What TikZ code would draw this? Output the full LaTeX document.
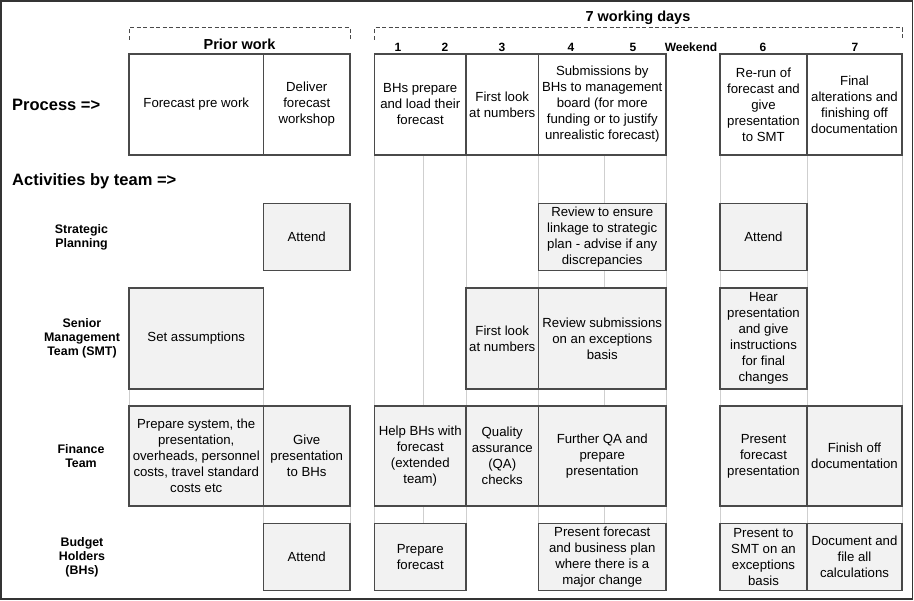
\documentclass[tikz,border=0pt]{standalone}
\usepackage{fontspec}
\setmainfont{Liberation Sans}
\definecolor{boxline}{HTML}{4A4A4A}
\definecolor{actfill}{HTML}{F2F2F2}
\definecolor{gridgray}{HTML}{CFCFCF}
\begin{document}
\begin{tikzpicture}[x=1pt, y=1pt,
  proc/.style = {draw=boxline, line width=1.4pt, fill=white, anchor=north west, outer sep=0pt, inner sep=1pt, align=center, font=\fontsize{13.2}{16}\selectfont},
  act/.style = {proc, fill=actfill},
  teamlabel/.style = {align=center, font=\bfseries\fontsize{12.4}{14}\selectfont},
  daynum/.style = {font=\bfseries\fontsize{12}{14}\selectfont},
  colhead/.style = {font=\bfseries\fontsize{14.5}{17}\selectfont},
  bigtitle/.style = {anchor=west, inner sep=0pt, font=\bfseries\fontsize{16.5}{19}\selectfont},
  bracket/.style = {draw=boxline, line width=1pt, dash pattern=on 4pt off 2.5pt},
  gridline/.style = {draw=gridgray, line width=1pt},
  wA/.style = {minimum width=134.5pt}, wB/.style = {minimum width=86.5pt},
  wC/.style = {minimum width=91.5pt}, wD/.style = {minimum width=72.5pt},
  wE/.style = {minimum width=127.5pt}, wF/.style = {minimum width=87pt},
  wG/.style = {minimum width=95pt},
  hbig/.style = {minimum height=101pt}, hfin/.style = {minimum height=100pt},
  hsmall/.style = {minimum height=67pt}]
\useasboundingbox (0,0) rectangle (914,-601);
\draw[line width=1.5pt, draw=boxline!70!black] (1,-1) rectangle (912.5,-599);
\foreach \x in {374.5,423.5,466,538.5,604,666,720,807,902}
  \draw[gridline] (\x,-155) -- (\x,-590.5);
% headings
\node[colhead] (week) at (638,-17.5) {7 working days};
\node[colhead] (prior) at (239.5,-44.5) {Prior work};
\node[daynum] (d1) at (398,-47.5) {1};
\node[daynum] (d2) at (445,-47.5) {2};
\node[daynum] (d3) at (502,-47.5) {3};
\node[daynum] (d4) at (571,-47.5) {4};
\node[daynum] (d5) at (633,-47.5) {5};
\node[daynum] (wkend) at (691,-47.5) {Weekend};
\node[daynum] (d6) at (763,-47.5) {6};
\node[daynum] (d7) at (855,-47.5) {7};
\node[bigtitle] (process) at (12,-105) {Process =>};
\node[bigtitle] (activities) at (12,-181) {Activities by team =>};
% process row
\node[proc, wA, hbig] (pw1) at (129,-54) {Forecast pre work};
\node[proc, wB, hbig] (pw2) at (263.5,-54) {Deliver\\forecast\\workshop};
\node[proc, wC, hbig] (pd1) at (374.5,-54) {BHs prepare\\and load their\\forecast};
\node[proc, wD, hbig] (pd3) at (466,-54) {First look\\at numbers};
\node[proc, wE, hbig] (pd4) at (538.5,-54) {Submissions by\\BHs to management\\board (for more\\funding or to justify\\unrealistic forecast)};
\node[proc, wF, hbig] (pd6) at (720,-54) {Re-run of\\forecast and\\give\\presentation\\to SMT};
\node[proc, wG, hbig] (pd7) at (807,-54) {Final\\alterations and\\finishing off\\documentation};
\draw[bracket] ([yshift=14pt]pw1.north west) -- ([yshift=26pt]pw1.north west) -- ([yshift=26pt]pw2.north east) -- ([yshift=14pt]pw2.north east);
\draw[bracket] ([yshift=14pt]pd1.north west) -- ([yshift=26pt]pd1.north west) -- ([yshift=26pt]pd7.north east) -- ([yshift=14pt]pd7.north east);
% teams
\node[teamlabel] (sp) at (81.5,-237) {Strategic\\Planning};
\node[teamlabel] (smt) at (82,-338) {Senior\\Management\\Team (SMT)};
\node[teamlabel] (fin) at (81,-456) {Finance\\Team};
\node[teamlabel] (bhs) at (82,-557) {Budget\\Holders\\(BHs)};
% strategic planning
\node[act, wB, hsmall] (sp1) at (263.5,-203.5) {Attend};
\node[act, wE, hsmall] (sp4) at (538.5,-203.5) {Review to ensure\\linkage to strategic\\plan - advise if any\\discrepancies};
\node[act, wF, hsmall] (sp6) at (720,-203.5) {Attend};
% senior management team
\node[act, wA, hbig] (sm1) at (129,-288) {Set assumptions};
\node[act, wD, hbig] (sm3) at (466,-288) {First look\\at numbers};
\node[act, wE, hbig] (sm4) at (538.5,-288) {Review submissions\\on an exceptions\\basis};
\node[act, wF, hbig] (sm6) at (720,-288) {Hear\\presentation\\and give\\instructions\\for final\\changes};
% finance team
\node[act, wA, hfin] (fi1) at (129,-406) {Prepare system, the\\presentation,\\overheads, personnel\\costs, travel standard\\costs etc};
\node[act, wB, hfin] (fi2) at (263.5,-406) {Give\\presentation\\to BHs};
\node[act, wC, hfin] (fi3) at (374.5,-406) {Help BHs with\\forecast\\(extended\\team)};
\node[act, wD, hfin] (fi4) at (466,-406) {Quality\\assurance\\(QA)\\checks};
\node[act, wE, hfin] (fi5) at (538.5,-406) {Further QA and\\prepare\\presentation};
\node[act, wF, hfin] (fi6) at (720,-406) {Present\\forecast\\presentation};
\node[act, wG, hfin] (fi7) at (807,-406) {Finish off\\documentation};
% budget holders
\node[act, wB, hsmall] (bh1) at (263.5,-523.5) {Attend};
\node[act, wC, hsmall] (bh2) at (374.5,-523.5) {Prepare\\forecast};
\node[act, wE, hsmall] (bh4) at (538.5,-523.5) {Present forecast\\and business plan\\where there is a\\major change};
\node[act, wF, hsmall] (bh6) at (720,-523.5) {Present to\\SMT on an\\exceptions\\basis};
\node[act, wG, hsmall] (bh7) at (807,-523.5) {Document and\\file all\\calculations};
\draw[gridline, shorten <=0.7pt, shorten >=0.7pt] (sm1.south west) -- (fi1.north west);
\draw[gridline, shorten <=0.7pt, shorten >=0.7pt] (sm1.south east) -- (fi1.north east);
\draw[gridline, shorten <=0.7pt, shorten >=0.7pt] (fi2.south west) -- (bh1.north west);
\draw[gridline, shorten <=0.7pt, shorten >=0.7pt] (fi2.south east) -- (bh1.north east);
\end{tikzpicture}
\end{document}
